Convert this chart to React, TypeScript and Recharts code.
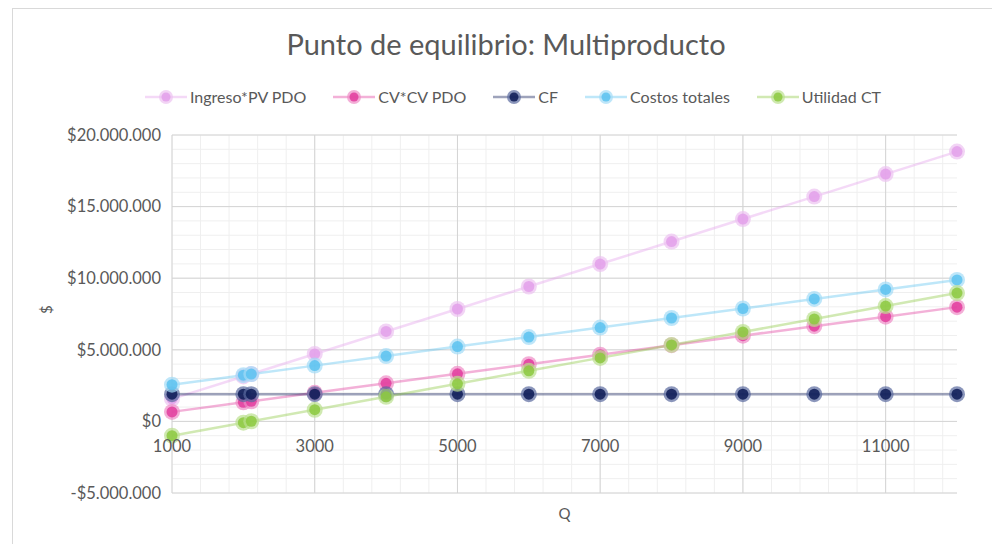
import { LineChart, Line, XAxis, YAxis, CartesianGrid, Label } from 'recharts'

const quantities = [1000, 2000, 2111, 3000, 4000, 5000, 6000, 7000, 8000, 9000, 10000, 11000, 12000]
const ingreso = [1570000, 3140000, 3314000, 4710000, 6280000, 7850000, 9420000, 10990000, 12560000, 14130000, 15700000, 17270000, 18840000]
const costoVariable = [665000, 1330000, 1404000, 1995000, 2660000, 3325000, 3990000, 4655000, 5320000, 5985000, 6650000, 7315000, 7980000]
const costoFijo = [1900000, 1900000, 1900000, 1900000, 1900000, 1900000, 1900000, 1900000, 1900000, 1900000, 1900000, 1900000, 1900000]
const costosTotales = [2565000, 3230000, 3304000, 3895000, 4560000, 5225000, 5890000, 6555000, 7220000, 7885000, 8550000, 9215000, 9880000]
const utilidad = [-995000, -90000, 10000, 815000, 1720000, 2625000, 3530000, 4435000, 5340000, 6245000, 7150000, 8055000, 8960000]

const xTicks = [1000, 3000, 5000, 7000, 9000, 11000]
const yTicks = [-5000000, 0, 5000000, 10000000, 15000000, 20000000]
const xMinor = [1000, 1400, 1800, 2200, 2600, 3000, 3400, 3800, 4200, 4600, 5000, 5400, 5800, 6200, 6600, 7000, 7400, 7800, 8200, 8600, 9000, 9400, 9800, 10200, 10600, 11000, 11400, 11800]
const yMinor = [-5, -4, -3, -2, -1, 0, 1, 2, 3, 4, 5, 6, 7, 8, 9, 10, 11, 12, 13, 14, 15, 16, 17, 18, 19, 20].map(v => v * 1000000)

const series = [
    { key: 'ingreso', name: 'Ingreso*PV PDO', color: '#E3A0EA', ring: '#EDC2F1', values: ingreso },
    { key: 'cv', name: 'CV*CV PDO', color: '#E23C9E', ring: '#EE8CC6', values: costoVariable },
    { key: 'cf', name: 'CF', color: '#0C1A55', ring: '#5A6A9E', values: costoFijo },
    { key: 'ct', name: 'Costos totales', color: '#5CC2F0', ring: '#A3DCF6', values: costosTotales },
    { key: 'util', name: 'Utilidad CT', color: '#8CC940', ring: '#BBE08E', values: utilidad },
]

const data = quantities.map((q, i) => {
    const row: Record<string, number> = { q }
    series.forEach(s => { row[s.key] = s.values[i] })
    return row
})

const font = 'Lato, "Open Sans", sans-serif'
const textColor = '#595959'

function money(v: number) {
    const s = Math.abs(v).toString().replace(/\B(?=(\d{3})+(?!\d))/g, '.')
    return (v < 0 ? '-$' : '$') + s
}

function Marker(props: any) {
    const { cx, cy, color, ring } = props
    if (cx == null || cy == null) return null
    return (
        <g>
            <circle cx={cx} cy={cy} r={8} fill={ring} fillOpacity={0.7} />
            <circle cx={cx} cy={cy} r={5.5} fill={color} fillOpacity={0.85} />
        </g>
    )
}

function XTick(props: any) {
    const { x, y, payload } = props
    // labels sit next to the $0 line, not at the bottom of the plot
    return (
        <text x={x} y={y - 47} dy="0.35em" textAnchor="middle" fill={textColor} fontSize={16.5} fontFamily={font}>
            {payload.value}
        </text>
    )
}

export default function App() {
    return (
        <div style={{ position: 'absolute', left: 0, top: 0, width: 992, height: 544, background: '#fff', fontFamily: font }}>
            <div style={{ position: 'absolute', left: 12, top: 8, right: 0, bottom: 0, borderTop: '1px solid #D9D9D9', borderLeft: '1px solid #D9D9D9' }} />
            <div style={{ position: 'absolute', left: 0, top: 26, width: 1012, textAlign: 'center', fontSize: 29, color: textColor }}>
                Punto de equilibrio: Multiproducto
            </div>
            <div style={{ position: 'absolute', left: 145, top: 87, display: 'flex', alignItems: 'center', fontSize: 16, color: textColor }}>
                {series.map(s => (
                    <div key={s.key} style={{ display: 'flex', alignItems: 'center', marginRight: 27 }}>
                        <svg width={42} height={18} style={{ marginRight: 3 }}>
                            <line x1={0} y1={9} x2={42} y2={9} stroke={s.color} strokeWidth={2.5} strokeOpacity={0.4} />
                            <circle cx={21} cy={9} r={7} fill={s.ring} fillOpacity={0.7} />
                            <circle cx={21} cy={9} r={4.5} fill={s.color} fillOpacity={0.85} />
                        </svg>
                        <span>{s.name}</span>
                    </div>
                ))}
            </div>
            <LineChart width={992} height={544} data={data} margin={{ top: 135, right: 35, bottom: 0, left: 0 }} style={{ position: 'absolute', left: 0, top: 0 }}>
                <CartesianGrid stroke="#EFEFEF" horizontalValues={yMinor} verticalValues={xMinor} />
                <CartesianGrid stroke="#D4D4D4" horizontalValues={yTicks} verticalValues={xTicks} />
                <XAxis
                    dataKey="q"
                    type="number"
                    domain={[1000, 12000]}
                    ticks={xTicks}
                    height={51}
                    axisLine={false}
                    tickLine={false}
                    tickSize={0}
                    tickMargin={0}
                    tick={<XTick />}
                    interval={0}
                >
                    <Label value="Q" position="insideBottom" offset={25} fill={textColor} fontSize={15} fontFamily={font} />
                </XAxis>
                <YAxis
                    type="number"
                    domain={[-5000000, 20000000]}
                    ticks={yTicks}
                    width={172}
                    axisLine={false}
                    tickLine={false}
                    tickSize={0}
                    tickMargin={11}
                    tickFormatter={money}
                    tick={{ fill: textColor, fontSize: 16.5, fontFamily: font }}
                    interval={0}
                >
                    <Label value="$" angle={-90} position="insideLeft" offset={47} fill={textColor} fontSize={15} fontFamily={font} />
                </YAxis>
                {series.map(s => (
                    <Line
                        key={s.key}
                        dataKey={s.key}
                        name={s.name}
                        type="linear"
                        stroke={s.color}
                        strokeWidth={2.5}
                        strokeOpacity={0.4}
                        dot={(p: any) => <Marker key={`${s.key}-${p.index}`} {...p} color={s.color} ring={s.ring} />}
                        activeDot={false}
                        isAnimationActive={false}
                    />
                ))}
            </LineChart>
        </div>
    )
}
